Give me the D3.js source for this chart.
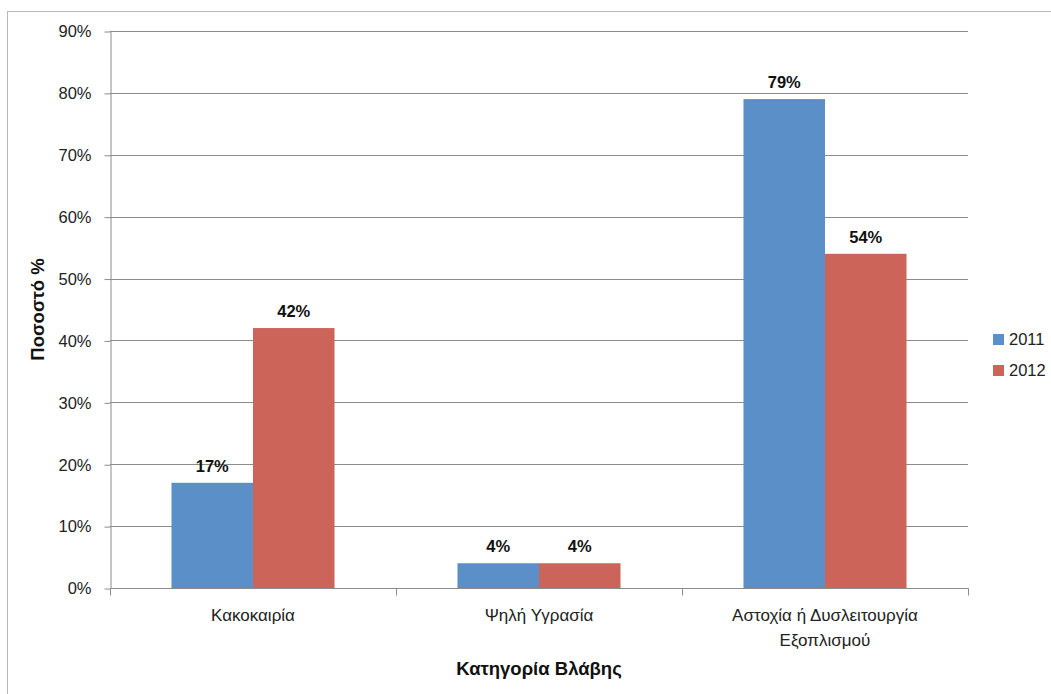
<!DOCTYPE html>
<html>
<head>
<meta charset="utf-8">
<script src="https://cdn.jsdelivr.net/npm/d3@7"></script>
<style>
  body { margin: 0; background: #fff; }
  svg { font-family: "Liberation Sans", Arial, sans-serif; }
</style>
</head>
<body>
<div id="chart"></div>
<script>
// chart data
let categories = [["Κακοκαιρία"], ["Ψηλή Υγρασία"], ["Αστοχία ή Δυσλειτουργία", "Εξοπλισμού"]];
let seriesNames = ["2011", "2012"];
let values2011 = [17, 4, 79];
let values2012 = [42, 4, 54];
let yTicks = [0, 10, 20, 30, 40, 50, 60, 70, 80, 90];
let colors = ["#5b8fc8", "#cc645a"];

let W = 1051, H = 694;
let margin = {top: 31, right: 83, bottom: 106, left: 110};

let svg = d3.select("#chart").append("svg")
    .attr("width", W)
    .attr("height", H);

// outer frame
svg.append("rect")
    .attr("x", 7.5).attr("y", 11.5)
    .attr("width", W + 10).attr("height", H + 10)
    .attr("fill", "none").attr("stroke", "#b8b8b8");

let x0 = d3.scaleBand()
    .domain(d3.range(categories.length))
    .range([margin.left, W - margin.right])
    .paddingInner(0.43)
    .paddingOuter(0.215);

let x1 = d3.scaleBand()
    .domain(seriesNames)
    .range([0, x0.bandwidth()]);

let y = d3.scaleLinear()
    .domain([0, 90])
    .range([H - margin.bottom, margin.top]);

// gridlines
svg.append("g")
    .selectAll("line")
    .data(yTicks.slice(1))
    .join("line")
    .attr("x1", margin.left).attr("x2", W - margin.right)
    .attr("y1", d => Math.round(y(d)) + 0.5).attr("y2", d => Math.round(y(d)) + 0.5)
    .attr("stroke", "#8c8c8c");

// y axis
let yAxis = svg.append("g")
    .attr("transform", `translate(${margin.left + 0.5},0.5)`)
    .call(d3.axisLeft(y).tickValues(yTicks).tickSize(6).tickSizeOuter(0).tickFormat(d => d + "%"));
yAxis.select(".domain").attr("stroke", "#8c8c8c");
yAxis.selectAll(".tick line").attr("stroke", "#8c8c8c");
yAxis.selectAll("text").attr("font-size", 16.5).attr("fill", "#222").attr("x", -19);

// bars
let rows = categories.map((c, i) => ({i: i, vals: [values2011[i], values2012[i]]}));
let groups = svg.append("g").selectAll("g")
    .data(rows)
    .join("g")
    .attr("transform", d => `translate(${x0(d.i)},0)`);

groups.selectAll("rect")
    .data(d => d.vals.map((v, k) => ({v: v, k: k})))
    .join("rect")
    .attr("x", d => x1(seriesNames[d.k]))
    .attr("y", d => y(d.v))
    .attr("width", x1.bandwidth())
    .attr("height", d => y(0) - y(d.v))
    .attr("fill", d => colors[d.k]);

groups.selectAll("text")
    .data(d => d.vals.map((v, k) => ({v: v, k: k})))
    .join("text")
    .attr("x", d => x1(seriesNames[d.k]) + x1.bandwidth() / 2)
    .attr("y", d => y(d.v) - 11)
    .attr("text-anchor", "middle")
    .attr("font-size", 16.5)
    .attr("font-weight", "bold")
    .attr("fill", "#111")
    .text(d => d.v + "%");

// x axis
let xEdge = d3.scaleLinear().domain([0, categories.length]).range([margin.left, W - margin.right]);
let xAxis = svg.append("g")
    .attr("transform", `translate(0.5,${Math.round(y(0)) + 0.5})`);
xAxis.append("line")
    .attr("x1", margin.left).attr("x2", W - margin.right)
    .attr("stroke", "#8c8c8c");
xAxis.selectAll(".edge")
    .data(d3.range(categories.length + 1))
    .join("line")
    .attr("class", "edge")
    .attr("x1", d => Math.round(xEdge(d))).attr("x2", d => Math.round(xEdge(d)))
    .attr("y1", 0).attr("y2", 7)
    .attr("stroke", "#8c8c8c");

let catLabels = svg.append("g").selectAll("text")
    .data(rows)
    .join("text")
    .attr("x", d => x0(d.i) + x0.bandwidth() / 2)
    .attr("y", y(0) + 33)
    .attr("text-anchor", "middle")
    .attr("font-size", 17)
    .attr("fill", "#222");
catLabels.selectAll("tspan")
    .data(d => categories[d.i])
    .join("tspan")
    .attr("x", function() { return d3.select(this.parentNode).attr("x"); })
    .attr("dy", (d, j) => j === 0 ? 0 : 25)
    .text(d => d);

// axis titles
svg.append("text")
    .attr("x", (margin.left + W - margin.right) / 2)
    .attr("y", 675)
    .attr("text-anchor", "middle")
    .attr("font-size", 18.5)
    .attr("font-weight", "bold")
    .attr("fill", "#111")
    .text("Κατηγορία Βλάβης");

svg.append("text")
    .attr("transform", `translate(44,${(margin.top + H - margin.bottom) / 2}) rotate(-90)`)
    .attr("text-anchor", "middle")
    .attr("font-size", 18.5)
    .attr("font-weight", "bold")
    .attr("fill", "#111")
    .text("Ποσοστό %");

// legend
let legend = svg.append("g").selectAll("g")
    .data(seriesNames)
    .join("g")
    .attr("transform", (d, i) => `translate(993,${334 + i * 31})`);
legend.append("rect")
    .attr("width", 11).attr("height", 11)
    .attr("fill", (d, i) => colors[i]);
legend.append("text")
    .attr("x", 16).attr("y", 11)
    .attr("font-size", 16.5)
    .attr("fill", "#222")
    .text(d => d);
</script>
</body>
</html>
